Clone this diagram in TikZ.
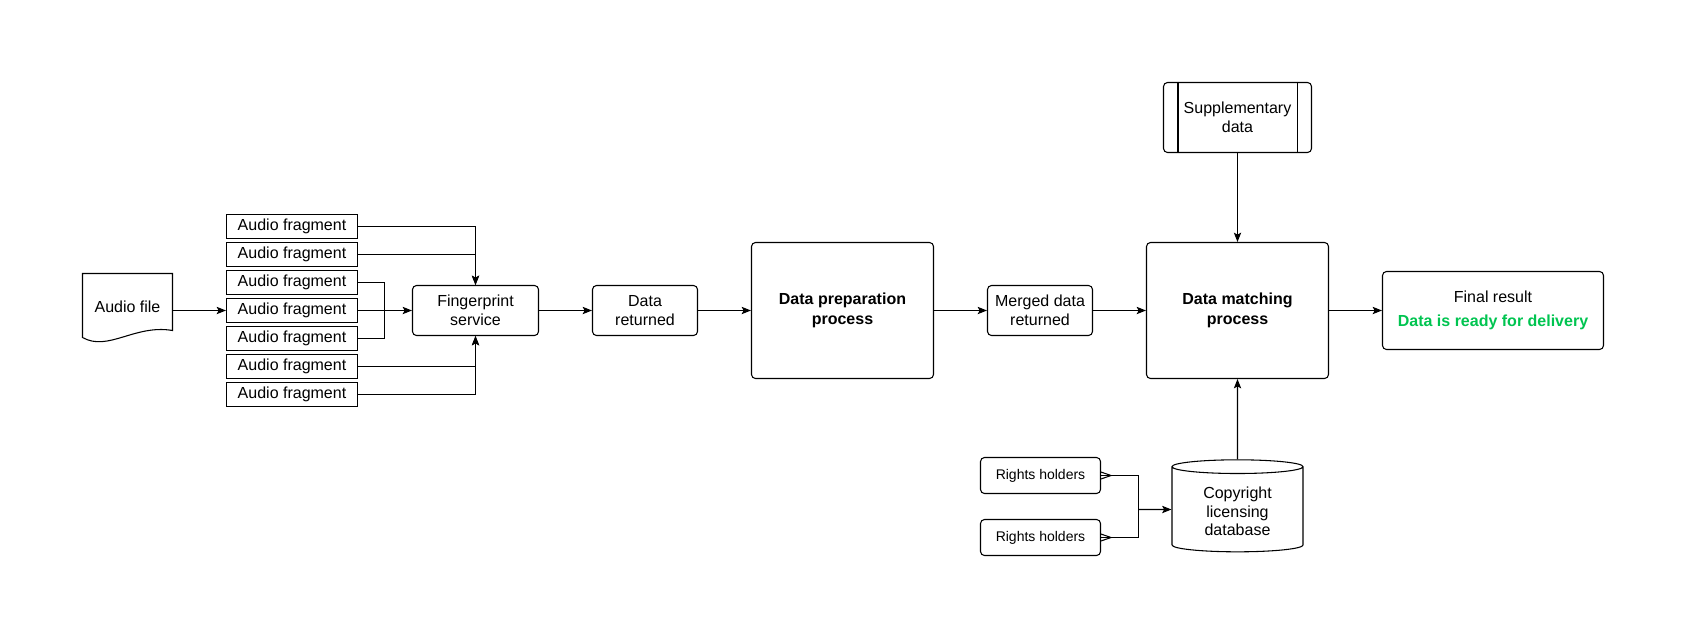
\documentclass[tikz,border=0pt]{standalone}
\usepackage{fontspec}
\setmainfont{Liberation Sans}
\usepackage{xcolor}
\usetikzlibrary{shapes.geometric,arrows.meta}
\definecolor{readygreen}{RGB}{0,196,80}

\begin{document}
\begin{tikzpicture}[x=0.75pt, y=-0.75pt, line width=0.8pt,
    box/.style={draw, rounded corners=3pt, align=center, inner sep=0pt,
      font=\fontsize{12}{14.5}\selectfont},
    smallbox/.style={box, minimum width=78.75pt, minimum height=37.5pt},
    bigbox/.style={box, minimum width=136.5pt, minimum height=102pt,
      font=\fontsize{12}{15}\selectfont\bfseries},
    frag/.style={draw, minimum width=98.25pt, minimum height=18pt, inner sep=0pt,
      font=\fontsize{12}{14}\selectfont},
    holder/.style={box, minimum width=90pt, minimum height=27pt,
      font=\fontsize{10.5}{12}\selectfont},
    flow/.style={-{Stealth[length=7pt, width=5.5pt, inset=1.5pt]}}]
  \useasboundingbox (0,0) rectangle (1684,636);

  % audio file (document shape)
  \draw (82.5,337.5) -- (82.5,273.5) -- (172.5,273.5) -- (172.5,330.5)
    .. controls (135,324) and (108,352) .. cycle;
  \node[inner sep=0pt, minimum width=67.5pt, font=\fontsize{12}{14}\selectfont] (audio) at (127.5,307) {Audio file};

  % fragments
  \foreach \i in {1,...,7} {
    \node[frag] (f\i) at (292, 198.5+28*\i) {Audio fragment};
  }
  \draw[flow] (audio.east |- f4.west) -- (f4.west);

  \node[smallbox, minimum width=94.5pt] (fp) at (475.5,310.5) {Fingerprint\\service};
  \foreach \i in {1,2} {
    \draw[flow] (f\i.east) -| (fp.north);
  }
  \foreach \i in {6,7} {
    \draw[flow] (f\i.east) -| (fp.south);
  }
  \coordinate (fjoin) at (384.5,310.5);
  \draw (f3.east) -| (fjoin) |- (f5.east);
  \draw[flow] (f4.east) -- (fp.west);

  % main chain
  \node[smallbox] (ret) at (645,310.5) {Data\\returned};
  \node[bigbox] (prep) at (842.5,310.5) {Data preparation\\process};
  \node[smallbox] (merged) at (1040,310.5) {Merged data\\returned};
  \node[bigbox] (match) at (1237.5,310.5) {Data matching\\process};
  \node[box, minimum width=165.75pt, minimum height=58.5pt] (final) at (1493,310.5)
    {Final result\\[4pt]\bfseries\color{readygreen}Data is ready for delivery};
  \draw[flow] (fp.east) -- (ret.west);
  \draw[flow] (ret.east) -- (prep.west);
  \draw[flow] (prep.east) -- (merged.west);
  \draw[flow] (merged.east) -- (match.west);
  \draw[flow] (match.east) -- (final.west);

  % supplementary data
  \node[box, minimum width=111pt, minimum height=52.5pt] (supp) at (1237.5,117.5) {Supplementary\\data};
  \draw ([xshift=11.25pt]supp.north west) -- ([xshift=11.25pt]supp.south west);
  \draw ([xshift=-11.25pt]supp.north east) -- ([xshift=-11.25pt]supp.south east);
  \draw[flow] (supp.south) -- (match.north);

  % rights holders and database
  \node[draw, cylinder, shape border rotate=90, aspect=0.2, inner sep=0pt,
    minimum width=98.25pt, minimum height=69pt, font=\fontsize{12}{14}\selectfont]
    (db) at (1237.5,509.5)
    {\raisebox{-3pt}[\height][\depth]{\begin{tabular}{@{}c@{}}Copyright\\licensing\\database\end{tabular}}};
  \node[holder] (h1) at (1040.5,475.5) {Rights holders};
  \node[holder] (h2) at (1040.5,537.5) {Rights holders};
  \coordinate (hjoin) at (1138.5,509.5);
  \foreach \h in {h1,h2} {
    \draw (\h.east) -| (hjoin);
    \draw ([yshift=2.6pt]\h.east) -- ([xshift=7.5pt]\h.east) -- ([yshift=-2.6pt]\h.east);
  }
  \draw[flow] (hjoin) -- (db.west);
  \draw[flow] (db.north) -- (match.south);
\end{tikzpicture}
\end{document}
